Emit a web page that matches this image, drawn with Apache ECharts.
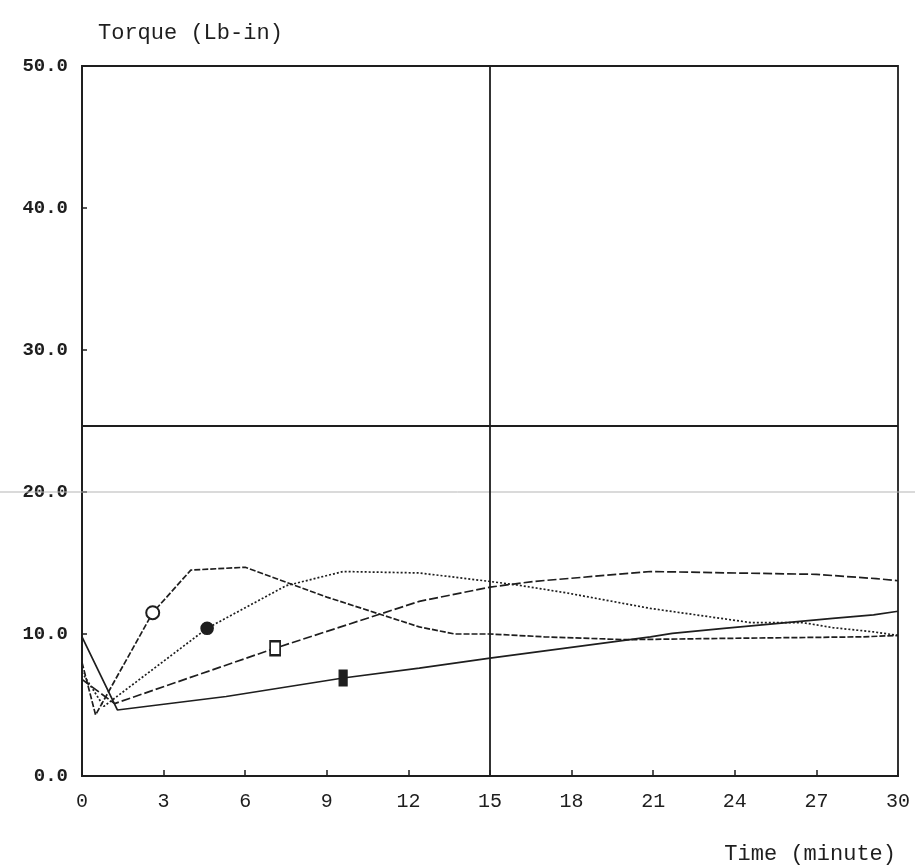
<!DOCTYPE html>
<html>
<head>
<meta charset="utf-8">
<script src="https://cdn.jsdelivr.net/npm/echarts@6/dist/echarts.min.js"></script>
<style>
  html, body { margin: 0; padding: 0; background: #ffffff; }
  #chart { width: 915px; height: 867px; }
</style>
</head>
<body>
<div id="chart"></div>
<script>
// Torque vs. time, four mixing runs
const xTicks = [0, 3, 6, 9, 12, 15, 18, 21, 24, 27, 30];
const yTicks = [0, 10, 20, 30, 40, 50];

// Run 1 (open circle, dashed)
const run1Time   = [0, 0.5, 2.6, 4.0, 6.0, 9.0, 12.4, 13.7, 15, 17, 20, 24, 28.7, 30];
const run1Torque = [8.0, 4.3, 11.5, 14.5, 14.7, 12.6, 10.5, 10.0, 10.0, 9.8, 9.6, 9.7, 9.8, 9.9];
const run1MarkAt = 2;

// Run 2 (filled circle, dotted)
const run2Time   = [0, 0.8, 4.6, 7.5, 9.6, 12.4, 15, 16, 17.8, 20.9, 24.6, 26.5, 27.6, 29.1, 30];
const run2Torque = [7.3, 4.9, 10.4, 13.4, 14.4, 14.3, 13.7, 13.45, 12.9, 11.8, 10.8, 10.8, 10.45, 10.15, 9.9];
const run2MarkAt = 2;

// Run 3 (open square, long dashes)
const run3Time   = [0, 1.2, 7.1, 12.4, 15, 16.6, 20.9, 27, 29.2, 30];
const run3Torque = [6.8, 5.1, 9.0, 12.3, 13.3, 13.7, 14.4, 14.2, 13.9, 13.75];
const run3MarkAt = 2;

// Run 4 (filled bar, solid)
const run4Time   = [0, 1.3, 5.3, 9.6, 12.4, 15, 20.9, 21.7, 23.6, 27.6, 29.1, 30];
const run4Torque = [9.8, 4.65, 5.6, 6.9, 7.6, 8.3, 9.8, 10.05, 10.4, 11.1, 11.35, 11.6];
const run4MarkAt = 3;

// Reference lines
const refTime = 15;
const refTorque = 24.7;
const guideTorque = 20;

const INK = '#1e1e1e';
const MONO = '"Liberation Mono", "DejaVu Sans Mono", monospace';

function pairs(ts, vs, markAt, symbol, size) {
  return ts.map((t, i) => {
    if (i === markAt) {
      return { value: [t, vs[i]], symbol: symbol, symbolSize: size };
    }
    return { value: [t, vs[i]] };
  });
}

function runSeries(name, data, dash) {
  return {
    name: name,
    type: 'line',
    data: data,
    symbol: 'none',
    showSymbol: true,
    showAllSymbol: true,
    animation: false,
    itemStyle: { color: INK, borderColor: INK, borderWidth: 1.6 },
    lineStyle: { color: INK, width: 1.7, type: dash },
    z: 3
  };
}

const chart = echarts.init(document.getElementById('chart'), null, { renderer: 'canvas' });

const option = {
  backgroundColor: '#ffffff',
  animation: false,
  title: [
    { text: 'Torque (Lb-in)', left: 93, top: 17,
      textStyle: { fontFamily: MONO, fontSize: 22, fontWeight: 'normal', color: INK } },
    { text: 'Time (minute)', right: 14, top: 838,
      textStyle: { fontFamily: MONO, fontSize: 22, fontWeight: 'normal', color: INK } }
  ],
  grid: {
    left: 82, right: 17, top: 66, bottom: 91,
    show: true, borderColor: INK, borderWidth: 1.8, backgroundColor: 'transparent'
  },
  xAxis: {
    type: 'value',
    min: xTicks[0], max: xTicks[xTicks.length - 1], interval: 3,
    axisLine: { show: true, lineStyle: { color: INK, width: 1.8 } },
    axisTick: { show: true, inside: true, length: 6, lineStyle: { color: INK, width: 1.5 } },
    splitLine: { show: false },
    axisLabel: { fontFamily: MONO, fontSize: 20, color: INK, margin: 16 }
  },
  yAxis: {
    type: 'value',
    min: yTicks[0], max: yTicks[yTicks.length - 1], interval: 10,
    axisLine: { show: true, lineStyle: { color: INK, width: 1.8 } },
    axisTick: { show: true, inside: true, length: 5, lineStyle: { color: INK, width: 1.5 } },
    splitLine: { show: false },
    axisLabel: { fontFamily: MONO, fontSize: 19, fontWeight: 'bold', color: INK, margin: 14,
                 formatter: v => v.toFixed(1) }
  },
  series: [
    Object.assign(runSeries('Run 1', pairs(run1Time, run1Torque, run1MarkAt, 'emptyCircle', 13), [6, 2]), {
      markLine: {
        silent: true, symbol: 'none', animation: false,
        label: { show: false },
        lineStyle: { color: INK, width: 1.8, type: 'solid' },
        data: [ { xAxis: refTime }, { yAxis: refTorque } ]
      }
    }),
    runSeries('Run 2', pairs(run2Time, run2Torque, run2MarkAt, 'circle', 12), [2, 2]),
    runSeries('Run 3', pairs(run3Time, run3Torque, run3MarkAt, 'emptyRect', [10, 14]), [9, 3]),
    runSeries('Run 4', pairs(run4Time, run4Torque, run4MarkAt, 'rect', [8, 15]), 'solid')
  ]
};

chart.setOption(option);

// Faint guide rule at 20 running across the whole sheet
const gy = chart.convertToPixel({ yAxisIndex: 0 }, guideTorque);
chart.setOption({
  graphic: [{
    type: 'line',
    shape: { x1: 0, y1: gy, x2: 915, y2: gy },
    style: { stroke: '#b5b5b5', lineWidth: 1 },
    z: 1, silent: true
  }]
});
</script>
</body>
</html>
